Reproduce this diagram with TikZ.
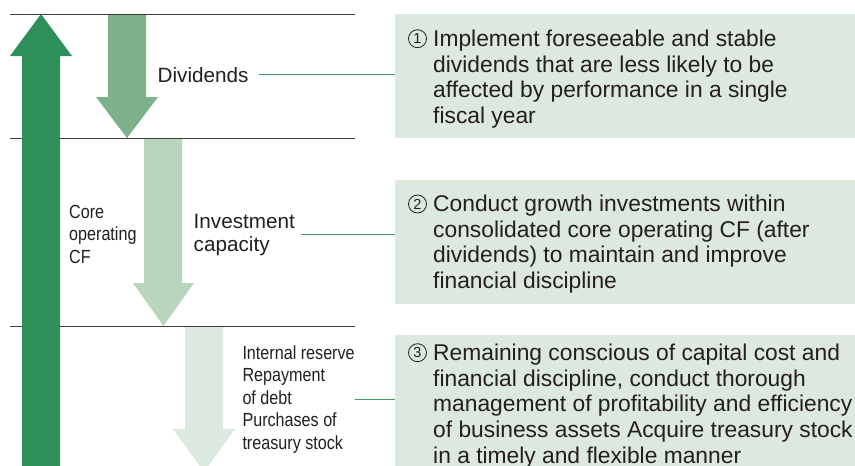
\documentclass[tikz,border=0pt]{standalone}
\usepackage{fontspec}
\setmainfont{Liberation Sans}
\newfontfamily\condfont[FakeStretch=0.85]{Liberation Sans}
\usetikzlibrary{calc}
\definecolor{corec}{RGB}{46,143,91}
\definecolor{divc}{RGB}{125,177,138}
\definecolor{invc}{RGB}{186,213,190}
\definecolor{restc}{RGB}{220,233,222}
\definecolor{boxc}{RGB}{221,232,222}
\definecolor{connc}{RGB}{60,155,100}
\definecolor{rulec}{RGB}{60,60,60}
\definecolor{txtc}{RGB}{35,31,32}
\tikzset{
  rulel/.style={draw=rulec, line width=0.9pt},
  conn/.style={draw=connc, line width=0.9pt},
  lbl/.style={inner sep=0pt, text=txtc, font=\fontsize{20.7}{23}\selectfont},
  cond/.style={inner sep=0pt, text=txtc, font=\condfont\fontsize{19}{22.6}\selectfont},
  btxt/.style={inner sep=0pt, text=txtc, font=\fontsize{22.8}{25.6}\selectfont},
  boxsty/.style={fill=boxc, inner sep=0pt, anchor=north west, minimum width=470pt},
  circ/.style={circle, draw=txtc, line width=0.8pt, minimum size=18pt, inner sep=0pt, text=txtc, font=\fontsize{14.5}{15}\selectfont},
}
\begin{document}
\begin{tikzpicture}[x=1pt,y=-1pt]
\useasboundingbox (0,0) rectangle (855,466);
\clip (0,0) rectangle (855,466);
% boxes
\node[boxsty, minimum height=124pt] (box1) at (395,14) {};
\node[boxsty, minimum height=124pt] (box2) at (395,180) {};
\node[boxsty, minimum height=140pt] (box3) at (395,334.5) {};
% flow arrows
\fill[divc] (108,14) -- (108,97) -- (96,97) -- (127,138) -- (158,97) -- (146,97) -- (146,14) -- cycle;
\fill[invc] (144,138) -- (144,283) -- (133,283) -- (163.5,326) -- (194,283) -- (182,283) -- (182,138) -- cycle;
\fill[restc] (185,326) -- (185,429) -- (173,429) -- (204,472) -- (235,429) -- (223,429) -- (223,326) -- cycle;
% rules
\draw[rulel] (10,14) -- (355,14);
\draw[rulel] (10,138) -- (355,138);
\draw[rulel] (10,326) -- (355,326);
% core arrow
\fill[corec] (22,470) -- (22,56) -- (10,56) -- (41,14) -- (72,56) -- (60,56) -- (60,470) -- cycle;
% labels
\node[lbl, anchor=base west] (div) at (157.5,82) {Dividends};
\node[lbl, anchor=base west] (inv) at (193.5,228) {\begin{tabular}[t]{@{}l@{}}Investment\\capacity\end{tabular}};
\node[cond, anchor=base west] (core) at (69,218.3) {\begin{tabular}[t]{@{}l@{}}Core\\operating\\CF\end{tabular}};
\node[cond, anchor=base west] (rest) at (242.3,359) {\begin{tabular}[t]{@{}l@{}}Internal reserve\\Repayment\\of debt\\Purchases of\\treasury stock\end{tabular}};
% box texts
\node[circ] (c1) at (417.5,38.7) {1};
\node[btxt, anchor=base west] (t1) at (433,46.7) {\begin{tabular}[t]{@{}l@{}}Implement foreseeable and stable\\dividends that are less likely to be\\affected by performance in a single\\fiscal year\end{tabular}};
\node[circ] (c2) at (417.5,204) {2};
\node[btxt, anchor=base west] (t2) at (433,211.7) {\begin{tabular}[t]{@{}l@{}}Conduct growth investments within\\consolidated core operating CF (after\\dividends) to maintain and improve\\financial discipline\end{tabular}};
\node[circ] (c3) at (417.5,352.7) {3};
\node[btxt, anchor=base west] (t3) at (433,360.7) {\begin{tabular}[t]{@{}l@{}}Remaining conscious of capital cost and\\financial discipline, conduct thorough\\management of profitability and efficiency\\of business assets Acquire treasury stock\\in a timely and flexible manner\end{tabular}};
% connectors
\draw[conn] ([xshift=10pt]div.east) -- (div.east -| box1.west);
\draw[conn] ([xshift=6pt]inv.east) -- (inv.east -| box2.west);
\draw[conn] (rest.east) -- (rest.east -| box3.west);
\end{tikzpicture}
\end{document}
